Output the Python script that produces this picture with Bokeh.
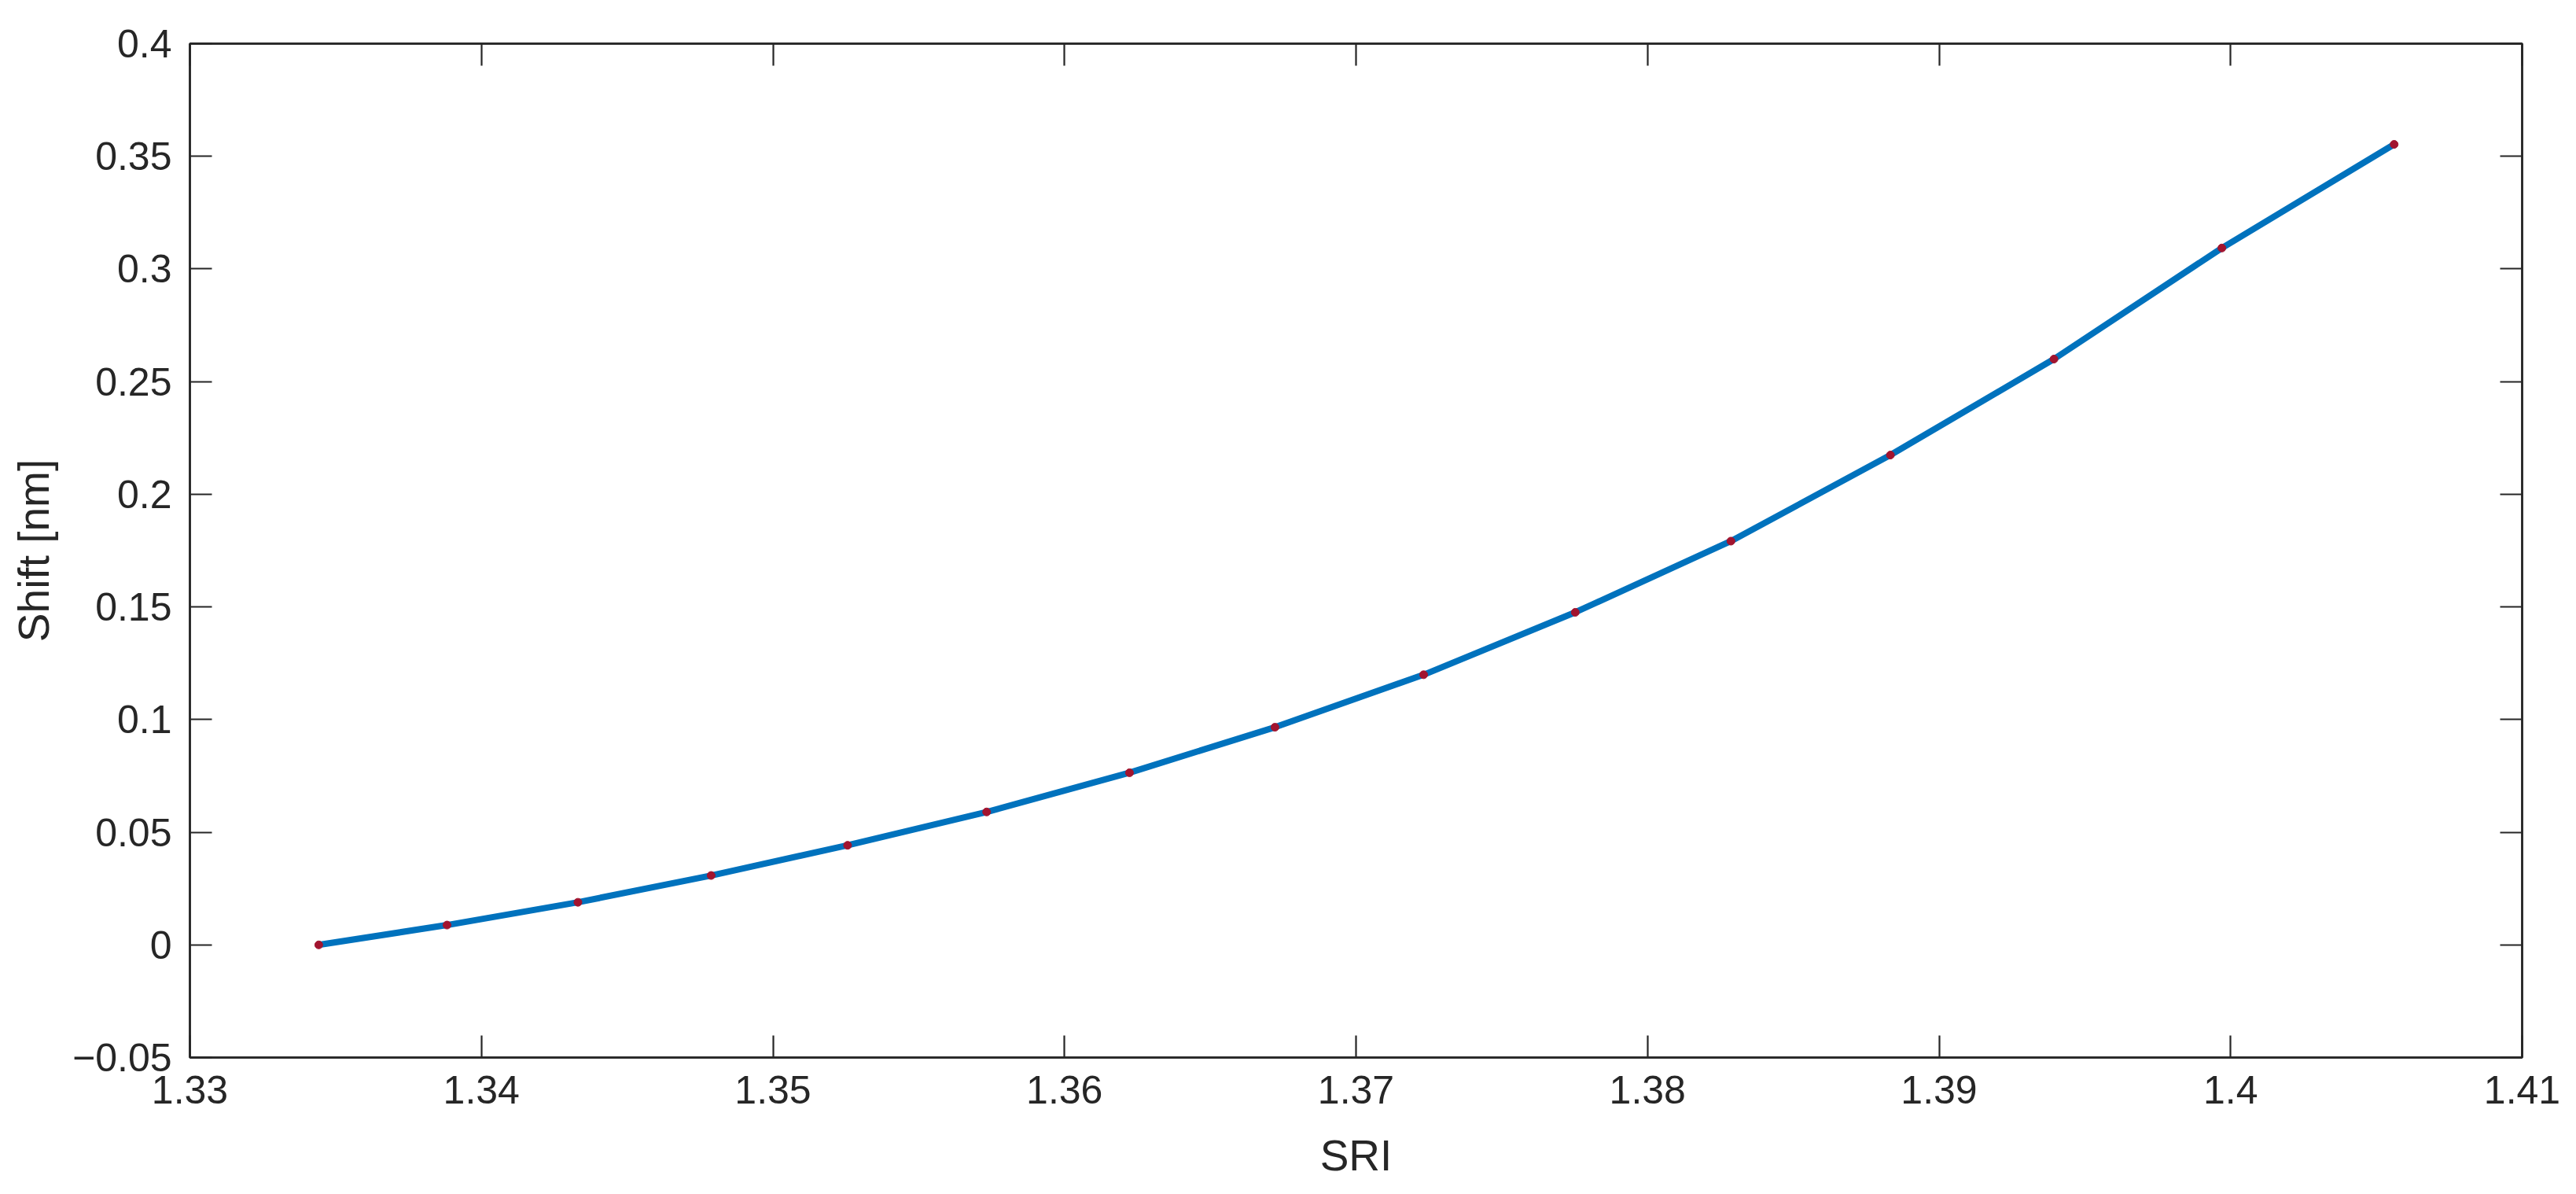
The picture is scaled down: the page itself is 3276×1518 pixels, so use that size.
from bokeh.plotting import figure
from bokeh.models import (LinearAxis, FixedTicker, CustomJSTickFormatter,
                          CustomLabelingPolicy, Range1d)
from bokeh.embed import file_html
from bokeh.resources import INLINE

# ---- data ----
sri = [1.33442, 1.33882, 1.34331, 1.34788, 1.35256, 1.35733, 1.36223, 1.36722,
       1.37232, 1.37752, 1.38286, 1.38833, 1.39394, 1.39970, 1.40561]
shift = [0.0000, 0.0088, 0.0189, 0.0308, 0.0442, 0.0590, 0.0764, 0.0966,
         0.1199, 0.1476, 0.1792, 0.2174, 0.2600, 0.3093, 0.3553]

x_ticks = [1.33, 1.34, 1.35, 1.36, 1.37, 1.38, 1.39, 1.40, 1.41]
x_tick_labels = ["1.33", "1.34", "1.35", "1.36", "1.37", "1.38", "1.39", "1.4", "1.41"]
y_ticks = [-0.05, 0.0, 0.05, 0.10, 0.15, 0.20, 0.25, 0.30, 0.35, 0.40]
y_tick_labels = ["\u22120.05", "0", "0.05", "0.1", "0.15", "0.2", "0.25", "0.3", "0.35", "0.4"]

x_label = "SRI"
y_label = "Shift [nm]"

FONT = "Liberation Sans"
AX = "#262626"
TICK_FS = "50px"
LABEL_FS = "55px"

p = figure(width=3260, height=1502, output_backend="svg", toolbar_location=None,
           x_range=Range1d(1.33, 1.41), y_range=Range1d(-0.05, 0.40),
           x_axis_location=None, y_axis_location=None,
           min_border_left=241, min_border_top=55, min_border_right=53,
           min_border_bottom=152)
p.xgrid.visible = False
p.ygrid.visible = False
p.background_fill_color = "white"
p.border_fill_color = "white"
p.outline_line_color = AX
p.outline_line_width = 2.5

fmt_code = """
let best = 0;
for (let i = 0; i < tvals.length; i++) {
  if (Math.abs(tvals[i] - tick) < Math.abs(tvals[best] - tick)) best = i;
}
return tlabels[best];
"""
hide_policy = CustomLabelingPolicy(code="return new Set()")


def style(ax, tv, tl, shown):
    ax.ticker = FixedTicker(ticks=tv)
    ax.formatter = CustomJSTickFormatter(args=dict(tvals=tv, tlabels=tl), code=fmt_code)
    ax.minor_tick_line_color = None
    ax.major_tick_in = 28
    ax.major_tick_out = 0
    ax.major_tick_line_width = 2.2
    ax.major_tick_line_color = AX
    ax.axis_line_color = AX
    ax.axis_line_width = 2.5
    ax.major_label_text_font = FONT
    ax.major_label_text_color = AX
    if shown:
        ax.major_label_text_font_size = TICK_FS
        ax.major_label_standoff = 23
        ax.axis_label_text_font = FONT
        ax.axis_label_text_font_size = LABEL_FS
        ax.axis_label_text_font_style = "normal"
        ax.axis_label_text_color = AX
    else:
        ax.major_label_text_font_size = "0px"
        ax.major_label_standoff = 0
        ax.major_label_policy = hide_policy


xb = LinearAxis(axis_label=x_label)
style(xb, x_ticks, x_tick_labels, True)
xb.axis_label_standoff = 32
p.add_layout(xb, "below")

yl = LinearAxis(axis_label=y_label)
style(yl, y_ticks, y_tick_labels, True)
yl.axis_label_standoff = 15
p.add_layout(yl, "left")

xt = LinearAxis()
style(xt, x_ticks, x_tick_labels, False)
p.add_layout(xt, "above")

yr = LinearAxis()
style(yr, y_ticks, y_tick_labels, False)
p.add_layout(yr, "right")

p.line(sri, shift, line_width=8, line_color="#0072BD")
p.scatter(sri, shift, size=10, fill_color="#A2142F", line_color="#A2142F")

open("out.html", "w").write(file_html(p, INLINE))
